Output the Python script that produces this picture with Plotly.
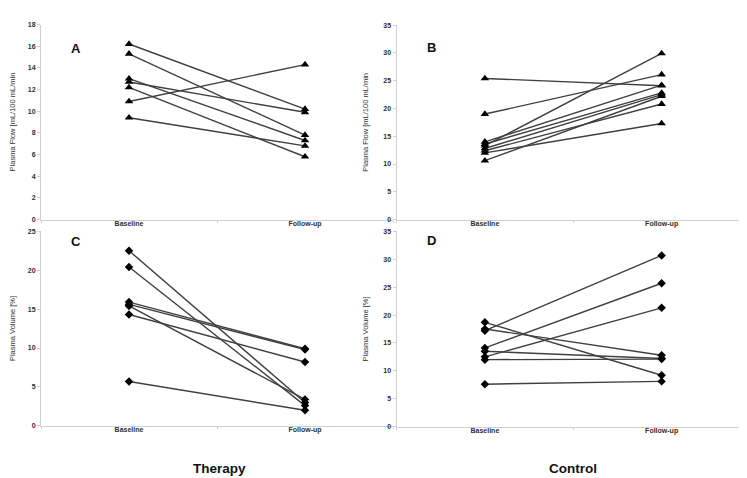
import plotly.graph_objects as go

# ---------------- data ----------------
categories = ["Baseline", "Follow-up"]

# Panel A: Therapy, plasma flow
A_baseline = [16.2, 15.3, 13.0, 12.7, 12.2, 10.9, 9.4]
A_followup = [10.2, 7.8, 7.3, 9.9, 5.8, 14.3, 6.8]

# Panel B: Control, plasma flow
B_baseline = [25.4, 19.0, 13.3, 14.0, 13.6, 12.8, 12.4, 10.6, 12.0]
B_followup = [24.1, 26.1, 29.9, 24.2, 22.8, 22.5, 20.8, 22.2, 17.3]

# Panel C: Therapy, plasma volume
C_baseline = [22.5, 20.4, 15.9, 15.6, 15.4, 14.3, 5.7]
C_followup = [3.0, 2.6, 9.9, 9.8, 3.4, 8.2, 2.0]

# Panel D: Control, plasma volume
D_baseline = [17.2, 14.1, 12.5, 18.7, 17.5, 13.5, 12.0, 7.6]
D_followup = [30.7, 25.7, 21.3, 9.2, 12.8, 12.2, 12.1, 8.1]

flow_title = "Plasma Flow [mL/100 mL/min"
volume_title = "Plasma Volume [%]"
panel_letters = ["A", "B", "C", "D"]
group_labels = ["Therapy", "Control"]

# ---------------- figure ----------------
W, H = 747, 478
FONT = "Liberation Sans, Arial, sans-serif"
LINE = "#404040"
AXIS = "#cfcfcf"
TXT = "#303030"

fig = go.Figure()


def add_panel(base, follow, xa, ya, symbol, size):
    xs, ys = [], []
    for b, f in zip(base, follow):
        xs += [categories[0], categories[1], None]
        ys += [b, f, None]
    fig.add_trace(go.Scatter(
        x=xs, y=ys, xaxis=xa, yaxis=ya, mode="lines+markers",
        line=dict(color=LINE, width=1.4),
        marker=dict(symbol=symbol, size=size, color="black"),
        connectgaps=False, showlegend=False, hoverinfo="skip"))


add_panel(A_baseline, A_followup, "x", "y", "triangle-up", 7.5)
add_panel(B_baseline, B_followup, "x2", "y2", "triangle-up", 7.5)
add_panel(C_baseline, C_followup, "x3", "y3", "diamond", 6.5)
add_panel(D_baseline, D_followup, "x4", "y4", "diamond", 6.5)


def px_x(a, b):
    return [a / W, b / W]


def px_y(top, bottom):
    return [1 - bottom / H, 1 - top / H]


xcommon = dict(type="category", categoryorder="array", categoryarray=categories,
               range=[-0.5, 1.5], showline=True, linecolor=AXIS, linewidth=1,
               ticks="outside", tickson="boundaries", ticklen=2, tickcolor=AXIS,
               ticklabelstandoff=-3,
               tickfont=dict(family=FONT, size=7, color=TXT, weight="bold"),
               showgrid=False, zeroline=False, fixedrange=True)
ycommon = dict(showline=True, linecolor=AXIS, linewidth=1, ticks="outside",
               ticklen=3, tickcolor=AXIS,
               tickfont=dict(family=FONT, size=7, color=TXT, weight="bold"),
               showgrid=False, zeroline=False, fixedrange=True)

left = px_x(33, 385)
right = px_x(388.5, 742)
ytitle_font = dict(size=7.5, color=TXT)

fig.update_layout(
    width=W, height=H, margin=dict(l=0, r=0, t=0, b=0),
    paper_bgcolor="white", plot_bgcolor="rgba(0,0,0,0)",
    font=dict(family=FONT, color=TXT),
    xaxis=dict(xcommon, domain=left, anchor="y"),
    yaxis=dict(ycommon, domain=px_y(12.7, 210.7), anchor="x", range=[0, 18], dtick=2,
               title=dict(text=flow_title, font=ytitle_font, standoff=13)),
    xaxis2=dict(xcommon, domain=right, anchor="y2"),
    yaxis2=dict(ycommon, domain=px_y(13.3, 210.7), anchor="x2", range=[0, 35], dtick=5,
                title=dict(text=flow_title, font=ytitle_font, standoff=13)),
    xaxis3=dict(xcommon, domain=left, anchor="y3"),
    yaxis3=dict(ycommon, domain=px_y(222.5, 420), anchor="x3", range=[0, 25], dtick=5,
                title=dict(text=volume_title, font=ytitle_font, standoff=13)),
    xaxis4=dict(xcommon, domain=right, anchor="y4"),
    yaxis4=dict(ycommon, domain=px_y(222.7, 420.7), anchor="x4", range=[0, 35], dtick=5,
                title=dict(text=volume_title, font=ytitle_font, standoff=13)),
)

letter_pos = [(68, 37), (423, 36), (68, 232.5), (423, 232)]
for t, (x, y) in zip(panel_letters, letter_pos):
    fig.add_annotation(text=t, x=x / W, y=1 - y / H, xref="paper", yref="paper",
                       showarrow=False, xanchor="center", yanchor="middle",
                       font=dict(family=FONT, size=13, color="#111", weight="bold"))

group_pos = [(211, 463), (565, 463)]
for t, (x, y) in zip(group_labels, group_pos):
    fig.add_annotation(text=t, x=x / W, y=1 - y / H, xref="paper", yref="paper",
                       showarrow=False, xanchor="center", yanchor="middle",
                       font=dict(family=FONT, size=13.5, color="#111", weight="bold"))

fig.write_html("out.html")
